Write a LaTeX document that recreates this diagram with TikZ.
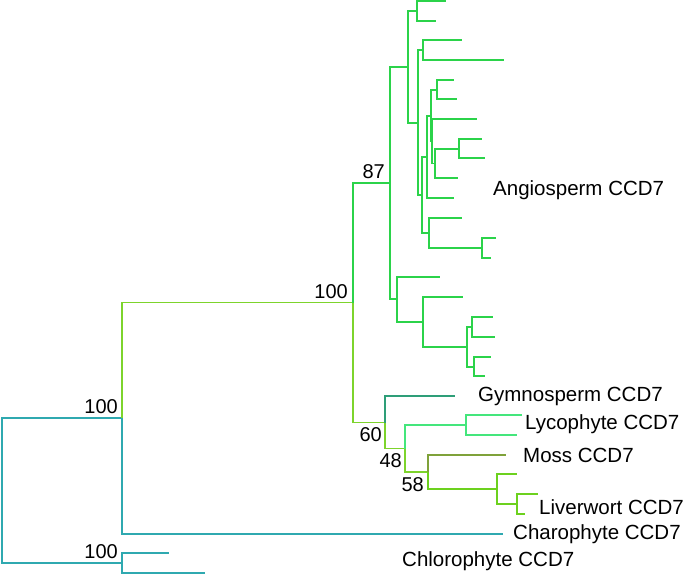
\documentclass[tikz,border=0pt]{standalone}
\usepackage{fontspec}
\setmainfont{Liberation Sans}
\definecolor{cteal}{HTML}{2FA9B0}
\definecolor{clime}{HTML}{7DD42C}
\definecolor{cangio}{HTML}{2BD34A}
\definecolor{cgym}{HTML}{2E9E78}
\definecolor{clyco}{HTML}{44E67C}
\definecolor{cmoss}{HTML}{7FA23A}
\definecolor{cliver}{HTML}{6CD11E}
\newcommand\treeedge[3]{\draw[branch,#1] (#2) |- (#3);}
\begin{document}
\begin{tikzpicture}[x=1pt,y=-1pt,
  branch/.style={line width=1.6pt},
  lab/.style={anchor=west,inner sep=0pt,font=\fontsize{20.5}{24}\selectfont},
  sup/.style={anchor=east,inner sep=0pt,font=\fontsize{20}{23}\selectfont}]
\useasboundingbox (0,0) rectangle (685,575);
% internal nodes
\coordinate (R) at (2,490.5);
\coordinate (N1) at (122,418);
\coordinate (C) at (122,563);
\coordinate (N2) at (353,302.5);
\coordinate (A87) at (390,183);
\coordinate (a1) at (408,67);
\coordinate (a3) at (417,11);
\coordinate (a4) at (418,123);
\coordinate (a5) at (423,50);
\coordinate (a6) at (422,195);
\coordinate (a7) at (427,157);
\coordinate (a8) at (429,233);
\coordinate (a9) at (431,116);
\coordinate (a10) at (437,90);
\coordinate (a11) at (432,141);
\coordinate (a12) at (435,163.5);
\coordinate (a13) at (459,149);
\coordinate (a14) at (482,248);
\coordinate (a2) at (397,299);
\coordinate (a15) at (423,322);
\coordinate (a16) at (467,347);
\coordinate (a17) at (472,327);
\coordinate (a18) at (474,367);
\coordinate (N60) at (385,422.5);
\coordinate (N48) at (405,448.5);
\coordinate (Ly) at (466,425);
\coordinate (N58) at (428,472);
\coordinate (L1) at (497,489);
\coordinate (L2) at (517,504);
% tips
\coordinate (t1) at (446,1);
\coordinate (t2) at (436,21);
\coordinate (t3) at (462,40);
\coordinate (t4) at (504,60);
\coordinate (t5) at (454,80);
\coordinate (t6) at (457,99);
\coordinate (t7) at (477,119);
\coordinate (t8) at (482,139);
\coordinate (t9) at (485,158);
\coordinate (t10) at (458,178);
\coordinate (t11) at (454,198);
\coordinate (t12) at (462,218);
\coordinate (t13) at (496,238);
\coordinate (t14) at (491,258);
\coordinate (t15) at (440,277);
\coordinate (t16) at (463,297);
\coordinate (t17) at (493,317);
\coordinate (t18) at (495,337);
\coordinate (t19) at (491,357);
\coordinate (t20) at (485,376);
\coordinate (gym) at (455,396);
\coordinate (ly1) at (522,415);
\coordinate (ly2) at (517,435);
\coordinate (moss) at (506,455);
\coordinate (lv1) at (517,474);
\coordinate (lv2) at (538,494);
\coordinate (lv3) at (525,514);
\coordinate (cha) at (503,534);
\coordinate (ch1) at (169,553);
\coordinate (ch2) at (205,573);
% root and outgroups
\treeedge{cteal}{R}{N1}
\treeedge{cteal}{R}{C}
\treeedge{cteal}{C}{ch1}
\treeedge{cteal}{C}{ch2}
\treeedge{cteal}{N1}{cha}
\treeedge{clime}{N1}{N2}
% angiosperms
\treeedge{cangio}{N2}{A87}
\treeedge{cangio}{A87}{a1}
\treeedge{cangio}{A87}{a2}
\treeedge{cangio}{a1}{a3}
\treeedge{cangio}{a1}{a4}
\treeedge{cangio}{a3}{t1}
\treeedge{cangio}{a3}{t2}
\treeedge{cangio}{a4}{a5}
\treeedge{cangio}{a4}{a6}
\treeedge{cangio}{a5}{t3}
\treeedge{cangio}{a5}{t4}
\treeedge{cangio}{a6}{a7}
\treeedge{cangio}{a6}{a8}
\treeedge{cangio}{a7}{a9}
\treeedge{cangio}{a7}{t11}
\treeedge{cangio}{a9}{a10}
\treeedge{cangio}{a9}{a11}
\treeedge{cangio}{a10}{t5}
\treeedge{cangio}{a10}{t6}
\treeedge{cangio}{a11}{t7}
\treeedge{cangio}{a11}{a12}
\treeedge{cangio}{a12}{a13}
\treeedge{cangio}{a12}{t10}
\treeedge{cangio}{a13}{t8}
\treeedge{cangio}{a13}{t9}
\treeedge{cangio}{a8}{t12}
\treeedge{cangio}{a8}{a14}
\treeedge{cangio}{a14}{t13}
\treeedge{cangio}{a14}{t14}
\treeedge{cangio}{a2}{t15}
\treeedge{cangio}{a2}{a15}
\treeedge{cangio}{a15}{t16}
\treeedge{cangio}{a15}{a16}
\treeedge{cangio}{a16}{a17}
\treeedge{cangio}{a16}{a18}
\treeedge{cangio}{a17}{t17}
\treeedge{cangio}{a17}{t18}
\treeedge{cangio}{a18}{t19}
\treeedge{cangio}{a18}{t20}
% other land plants
\treeedge{clime}{N2}{N60}
\treeedge{cgym}{N60}{gym}
\treeedge{clime}{N60}{N48}
\treeedge{clyco}{N48}{Ly}
\treeedge{clyco}{Ly}{ly1}
\treeedge{clyco}{Ly}{ly2}
\treeedge{clime}{N48}{N58}
\treeedge{cmoss}{N58}{moss}
\treeedge{cliver}{N58}{L1}
\treeedge{cliver}{L1}{lv1}
\treeedge{cliver}{L1}{L2}
\treeedge{cliver}{L2}{lv2}
\treeedge{cliver}{L2}{lv3}
% labels
\node[lab] (lAng) at (493,190) {Angiosperm CCD7};
\node[lab] (lGym) at (478,396) {Gymnosperm CCD7};
\node[lab] (lLyc) at (525,424) {Lycophyte CCD7};
\node[lab] (lMos) at (523,455) {Moss CCD7};
\node[lab] (lLiv) at (539,507) {Liverwort CCD7};
\node[lab] (lCha) at (513,534) {Charophyte CCD7};
\node[lab] (lChl) at (402,561) {Chlorophyte CCD7};
% support values
\node[sup] (s87) at (385,172) {87};
\node[sup] (s100a) at (348,292) {100};
\node[sup] (s100b) at (118,407) {100};
\node[sup] (s100c) at (118,552) {100};
\node[sup] (s60) at (382,435) {60};
\node[sup] (s48) at (402,461) {48};
\node[sup] (s58) at (424,485) {58};
\end{tikzpicture}
\end{document}
